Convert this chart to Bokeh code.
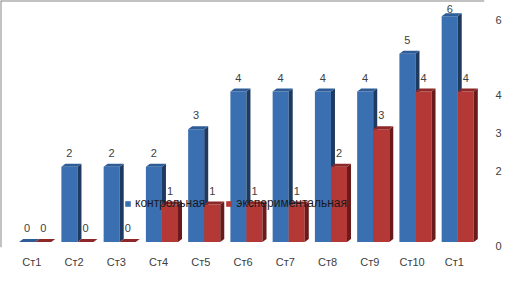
import numpy as np
from bokeh.plotting import figure
from bokeh.models import (Range1d, LinearAxis, FixedTicker, ColumnDataSource,
                          Legend, LegendItem, Span)
from bokeh.embed import file_html
from bokeh.resources import INLINE

categories = ["Ст1", "Ст2", "Ст3", "Ст4", "Ст5", "Ст6", "Ст7", "Ст8", "Ст9", "Ст10", "Ст1"]
control = [0, 2, 2, 2, 3, 4, 4, 4, 4, 5, 6]
experimental = [0, 0, 0, 1, 1, 1, 1, 2, 3, 4, 4]
right_ticks = [0, 2, 3, 4, 6]
series_names = ["контрольная", "экспериментальная"]

FONT = "Liberation Sans"
TXT = "#404040"

W, H = 512, 270
y0, y1 = -0.144, 6.417
x0, x1 = -0.741, 10.714

p = figure(width=W, height=H, output_backend="svg", toolbar_location=None,
           title=None, x_range=Range1d(x0, x1), y_range=Range1d(y0, y1),
           min_border_left=0, min_border_top=0, min_border_right=28,
           min_border_bottom=20)
p.xaxis.visible = False
p.yaxis.visible = False
p.xgrid.visible = False
p.ygrid.visible = False
p.outline_line_color = None
p.background_fill_color = "white"
p.border_fill_color = "white"

# outer chart border (top and left visible)
p.add_layout(Span(location=y1, dimension="width", line_color="#868686", line_width=2))
p.add_layout(Span(location=x0, dimension="height", line_color="#868686", line_width=2))

idx = np.arange(len(categories))
bnd = idx + 0.08
bw = 0.38
dx, dy = 0.095, 0.079


def bar3d(left, right, vals, front, side, top):
    vals = np.asarray(vals, dtype=float)
    src = ColumnDataSource(dict(left=left, right=right, top=vals, bottom=np.zeros_like(vals)))
    r = p.quad(left="left", right="right", top="top", bottom="bottom", source=src,
               fill_color=front, line_color=None)
    side_xs = [[r_, r_ + dx, r_ + dx, r_] for r_ in right]
    side_ys = [[0, dy, v + dy, v] for v in vals]
    p.patches(side_xs, side_ys, fill_color=side, line_color=None)
    top_xs = [[l_, l_ + dx, r_ + dx, r_] for l_, r_ in zip(left, right)]
    top_ys = [[v, v + dy, v + dy, v] for v in vals]
    p.patches(top_xs, top_ys, fill_color=top, line_color=None)
    return r


rb = bar3d(bnd - bw, bnd, control, "#3A6FB2", "#1E3A60", "#2D5C96")
rr = bar3d(bnd, bnd + bw, experimental, "#B33836", "#6A1A1A", "#8E2828")

# data labels
cap = y1 - 0.22
for xs, vals in ((bnd - bw / 2, control), (bnd + bw / 2, experimental)):
    v = np.asarray(vals, dtype=float)
    ly = np.minimum(v + 0.37, cap)
    p.text(x=xs, y=ly, text=[str(int(a)) for a in vals], text_align="center",
           text_baseline="middle", text_font_size="11px", text_color=TXT,
           text_font={"value": FONT})

# category axis
xa = LinearAxis(ticker=FixedTicker(ticks=list(idx)),
                major_label_overrides={int(i): c for i, c in zip(idx, categories)})
xa.axis_line_color = None
xa.major_tick_line_color = None
xa.minor_tick_line_color = None
xa.major_label_standoff = 2
xa.major_label_text_font = FONT
xa.major_label_text_font_size = "11px"
xa.major_label_text_color = TXT
p.add_layout(xa, "below")

# right value axis (shifted a little lower like the reference)
shift = 0.105
p.extra_y_ranges = {"r": Range1d(y0 + shift, y1 + shift)}
ya = LinearAxis(y_range_name="r", ticker=FixedTicker(ticks=right_ticks))
ya.axis_line_color = None
ya.major_tick_line_color = None
ya.minor_tick_line_color = None
ya.major_label_standoff = 5
ya.major_label_text_font = FONT
ya.major_label_text_font_size = "11px"
ya.major_label_text_color = TXT
p.add_layout(ya, "right")

legend = Legend(items=[LegendItem(label=series_names[0], renderers=[rb]),
                       LegendItem(label=series_names[1], renderers=[rr])],
                orientation="horizontal", location=(124, 37),
                background_fill_alpha=0, border_line_color=None,
                glyph_width=7, glyph_height=7, label_standoff=4, spacing=20,
                padding=0, margin=0,
                label_text_font=FONT, label_text_font_size="12px",
                label_text_color="#1a1a1a")
p.add_layout(legend, "center")

open("out.html", "w").write(file_html(p, INLINE))
